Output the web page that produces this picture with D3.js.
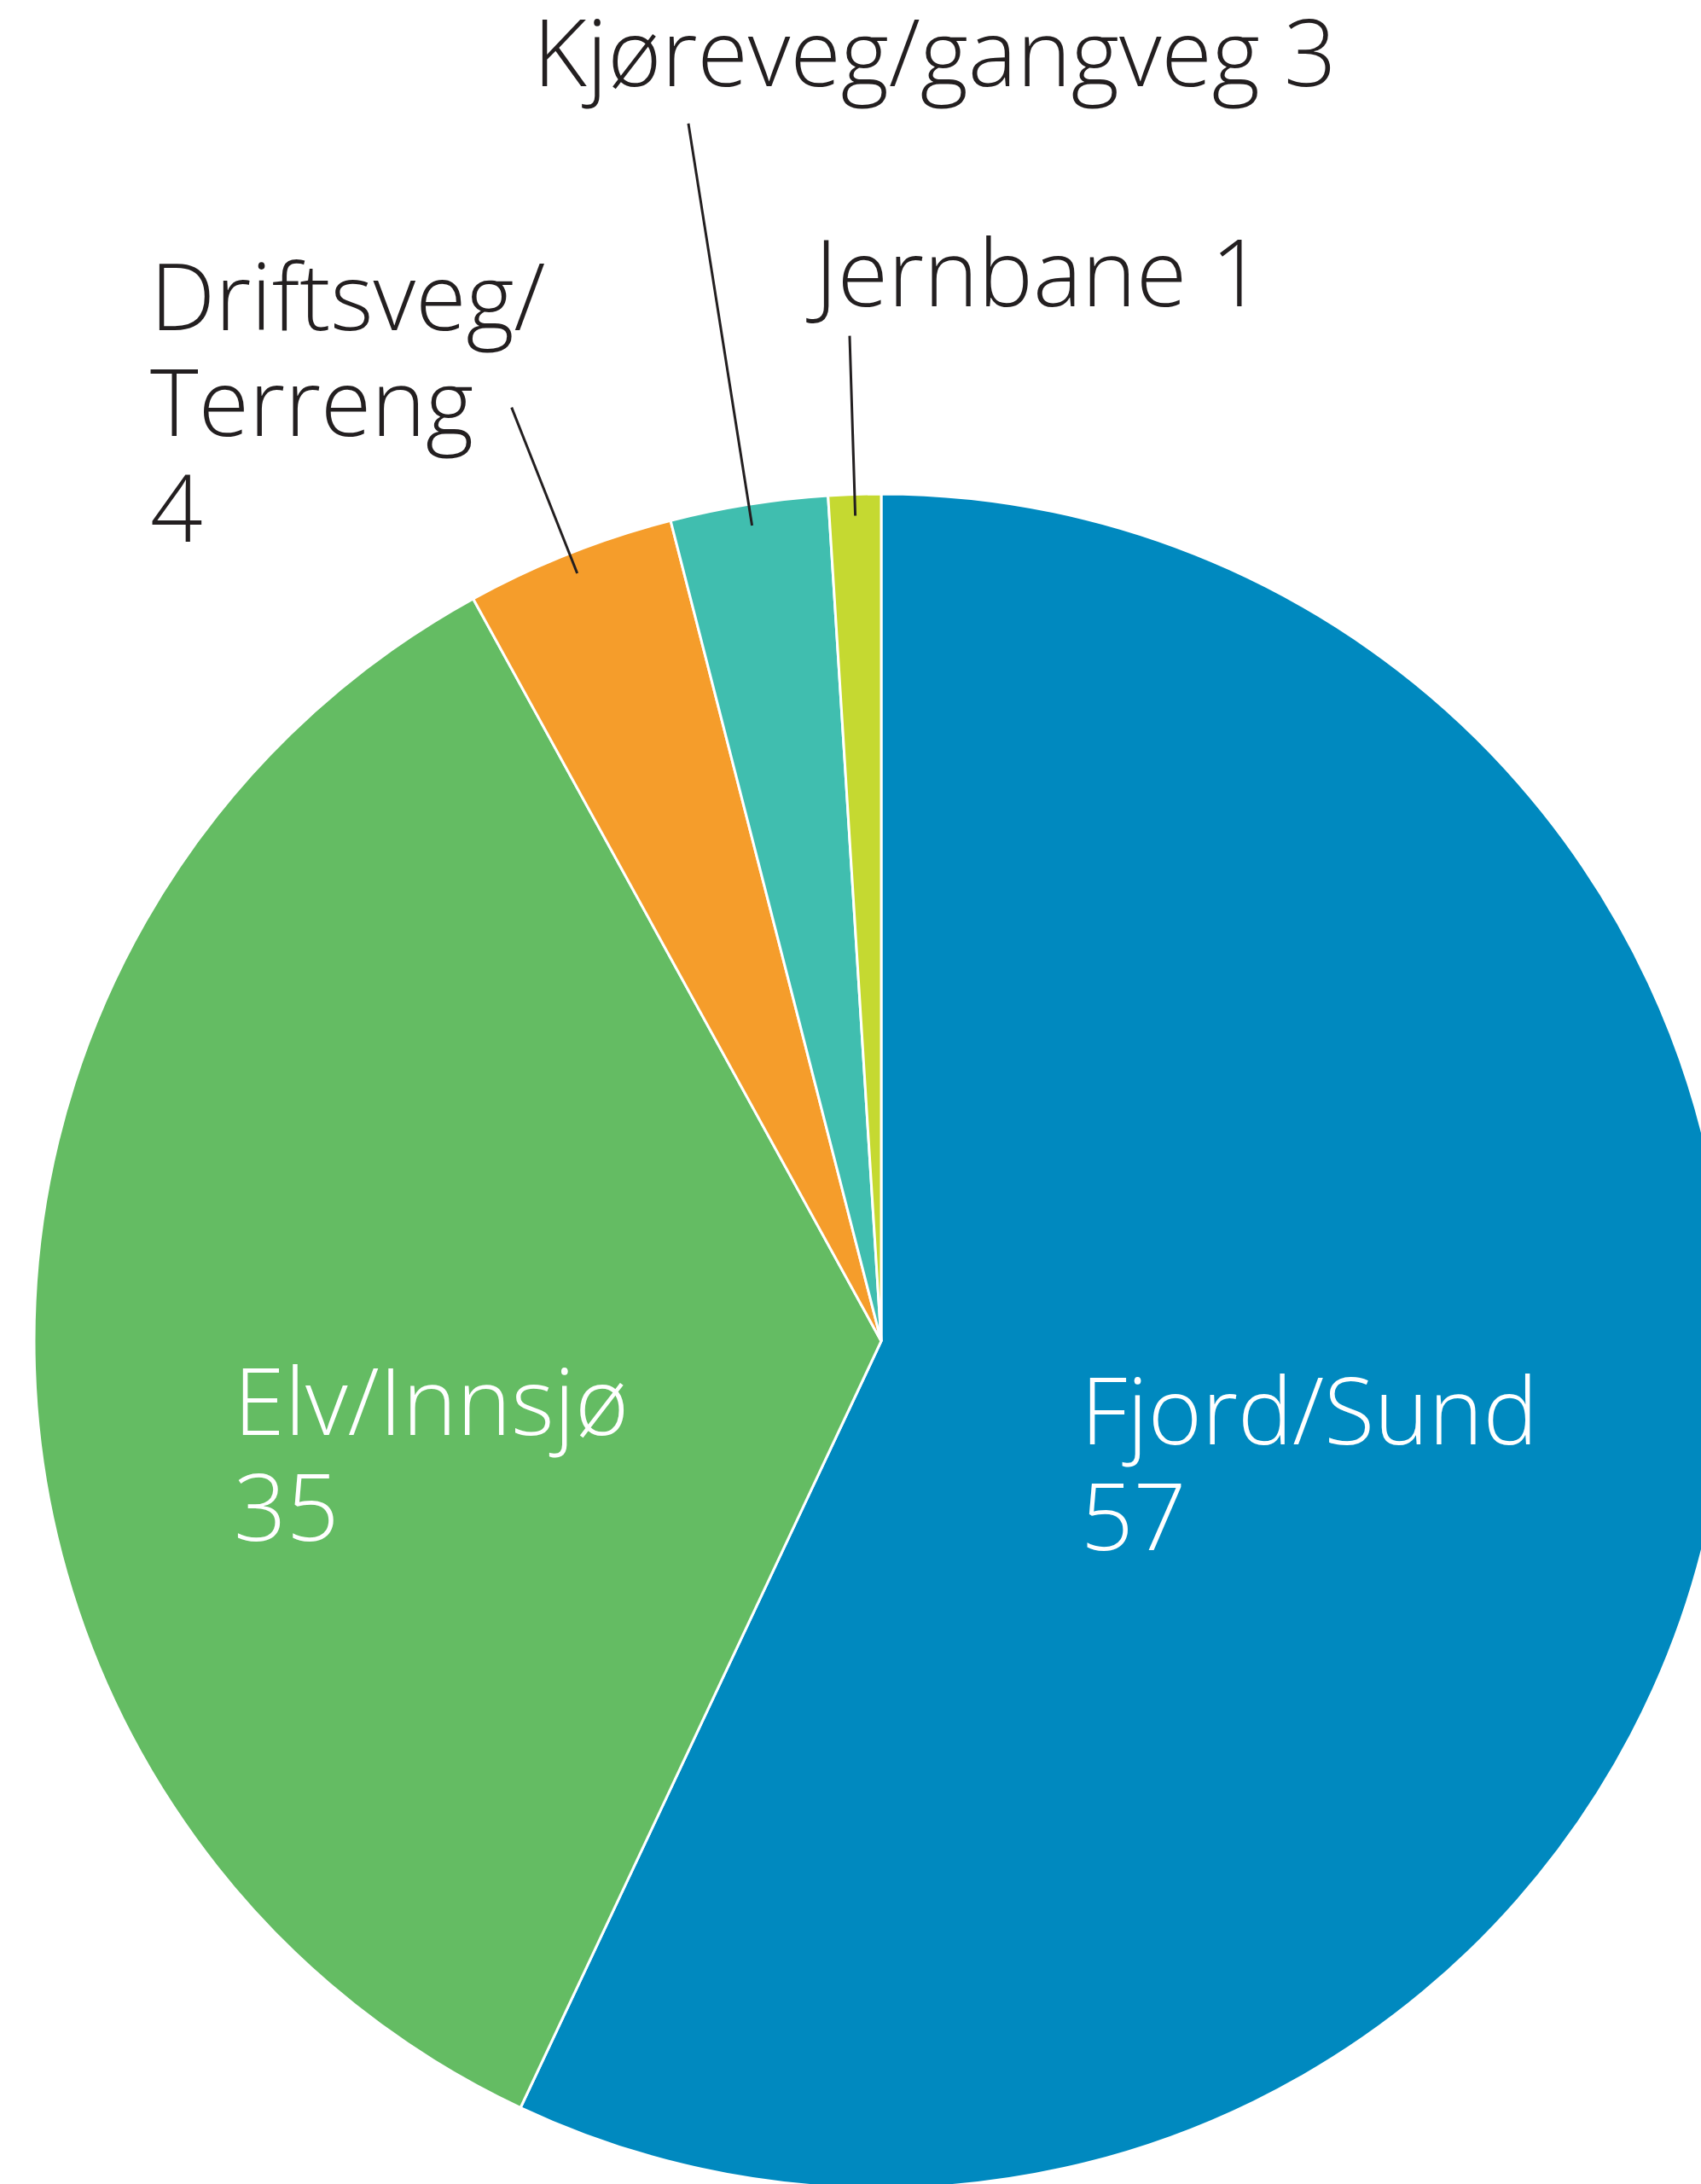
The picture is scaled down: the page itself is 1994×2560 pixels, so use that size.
<!DOCTYPE html>
<html>
<head>
<meta charset="utf-8">
<script src="https://cdn.jsdelivr.net/npm/d3@7"></script>
<style>
  body { margin: 0; background: #fff; }
  text { font-family: "Open Sans", sans-serif; font-weight: 300; }
</style>
</head>
<body>
<svg id="chart" width="1994" height="2560"></svg>
<script>
// Data
const categories = ["Fjord/Sund", "Elv/Innsjø", "Driftsveg/Terreng", "Kjøreveg/gangveg", "Jernbane"];
const values = [57, 35, 4, 3, 1];
const colors = ["#0089bf", "#64bc63", "#f59d2b", "#40beaf", "#c5d931"];

// label lines as they are broken in the figure
const labelLines = [
  ["Fjord/Sund", "57"],
  ["Elv/Innsjø", "35"],
  ["Driftsveg/", "Terreng", "4"],
  ["Kjøreveg/gangveg 3"],
  ["Jernbane 1"]
];

const width = 1994;
const height = 2560;
const cx = 1033, cy = 1572;
const radius = 993;
const fontSize = 108;
const lineGap = 124;

const svg = d3.select("#chart");
const g = svg.append("g").attr("transform", `translate(${cx},${cy})`);

const pie = d3.pie().sort(null).value(d => d.value);
const arcs = pie(categories.map((c, i) => ({name: c, value: values[i], i: i})));

const arc = d3.arc().innerRadius(0).outerRadius(radius);

g.selectAll("path.slice")
  .data(arcs)
  .enter().append("path")
  .attr("class", "slice")
  .attr("d", arc)
  .attr("fill", d => colors[d.data.i])
  .attr("stroke", "#fff")
  .attr("stroke-width", 3)
  .attr("stroke-linejoin", "miter");

// leader lines for the small slices, radial from inside the slice outward
const leaderInner = 968;
const leaderOuter = {2: 1177, 3: 1445, 4: 1179};
const pointAt = (d, r) => d3.arc().innerRadius(r).outerRadius(r).centroid(d);

arcs.filter(d => d.data.i in leaderOuter).forEach(d => {
  const a = pointAt(d, leaderInner);
  const b = pointAt(d, leaderOuter[d.data.i]);
  g.append("line")
    .attr("x1", a[0]).attr("y1", a[1])
    .attr("x2", b[0]).attr("y2", b[1])
    .attr("stroke", "#231f20")
    .attr("stroke-width", 3);
});

// where each label block starts (left x, first baseline), page coordinates
const labelPos = [
  {x: 1267, y: 1693, fill: "#fff"},
  {x: 274, y: 1682, fill: "#fff"},
  {x: 176, y: 387, fill: "#231f20"},
  {x: 625, y: 101, fill: "#231f20"},
  {x: 955, y: 359, fill: "#231f20"}
];

labelLines.forEach((lines, i) => {
  const t = svg.append("text")
    .attr("x", labelPos[i].x)
    .attr("y", labelPos[i].y)
    .attr("fill", labelPos[i].fill)
    .attr("font-size", fontSize);
  lines.forEach((ln, j) => {
    t.append("tspan")
      .attr("x", labelPos[i].x)
      .attr("dy", j == 0 ? 0 : lineGap)
      .text(ln);
  });
});
</script>
</body>
</html>
